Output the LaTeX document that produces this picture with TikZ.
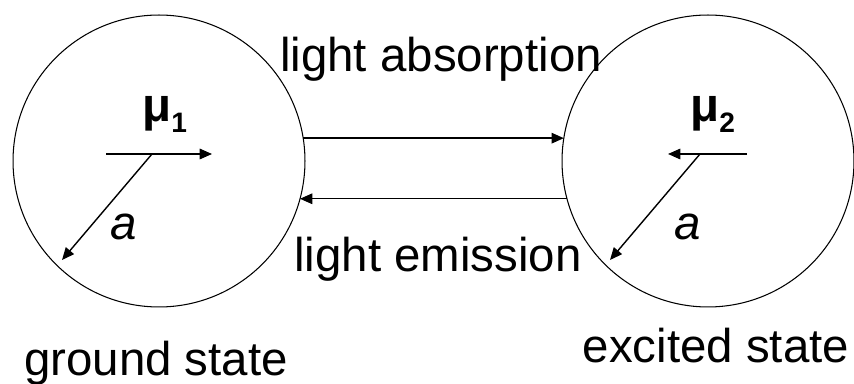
\documentclass[tikz,border=0pt]{standalone}
\usepackage{fontspec}
\setmainfont{Liberation Sans}
\usetikzlibrary{arrows.meta}

\def\lw{0.8pt}
\def\sub#1{\raisebox{-5.7pt}{\fontsize{16}{16}\selectfont #1}}

\begin{document}
\begin{tikzpicture}[x=0.02cm,y=-0.02cm,
  state/.style={circle,draw,line width=0.6pt,minimum size=5.84cm,inner sep=0pt,outer sep=0pt},
  arr/.style={line width=\lw,-{Triangle[length=7pt,width=6pt]}},
  lbl/.style={font=\fontsize{27}{32}\selectfont,inner sep=0pt}]
\useasboundingbox (0,0) rectangle (854,384);

\node[state] (ground)  at (159,161) {};
\node[state] (excited) at (708,161) {};

\draw[arr] (ground.9) -- (excited.171);
\draw[arr] (excited.195) -- (ground.-15);

\coordinate (m1s) at (106,154);
\coordinate (m1e) at (212,154);
\coordinate (a1s) at (152,154);
\coordinate (a1e) at (62,260);
\coordinate (m2s) at (747,154);
\coordinate (m2e) at (668,154);
\coordinate (a2s) at (700,154);
\coordinate (a2e) at (610,260);

\draw[arr] (m1s) -- (m1e);
\draw[arr] (a1s) -- (a1e);
\draw[arr] (m2s) -- (m2e);
\draw[arr] (a2s) -- (a2e);

\node[lbl,anchor=base west] (mu1) at (142,122) {\bfseries μ\sub{1}};
\node[lbl,anchor=base west] (mu2) at (690,122) {\bfseries μ\sub{2}};
\node[lbl,anchor=base] (rad1) at (124,240) {\itshape a};
\node[lbl,anchor=base] (rad2) at (688,240) {\itshape a};

\node[lbl,anchor=base] (absorb) at (441,72)  {light absorption};
\node[lbl,anchor=base] (emit)   at (438,272) {light emission};
\node[lbl,anchor=base] (glabel) at (156,376) {ground state};
\node[lbl,anchor=base] (elabel) at (716,362) {excited state};

\end{tikzpicture}
\end{document}
